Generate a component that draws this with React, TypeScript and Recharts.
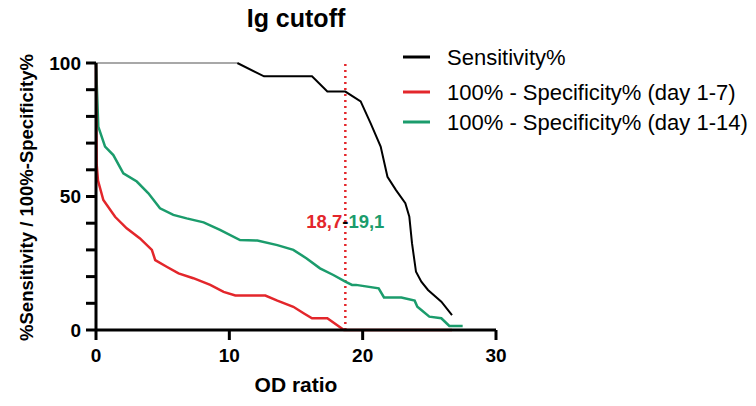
import { LineChart, Line, XAxis, YAxis, ReferenceLine } from 'recharts'

const sensTopX = [0, 10.6]
const sensTopY = [100, 100]

const sensX = [10.6, 12.6, 16.2, 17.35, 18.7, 19.85, 20.6, 21.35, 21.86, 22.5, 23.2, 23.5, 23.7, 24.0, 24.4, 24.9, 25.9, 26.7]
const sensY = [100, 95, 95, 89.3, 89.3, 85.6, 77.4, 68.7, 57.4, 52.4, 47.5, 42.4, 32.5, 21.8, 18.1, 15, 10.6, 5.6]

const spec7X = [0, 0.05, 0.15, 0.55, 1.43, 2.3, 3.3, 4.19, 4.44, 5.3, 6.19, 7.3, 8.57, 9.57, 10.45, 12.7, 13.6, 14.8, 15.6, 16.2, 17.35, 18.6, 26.7]
const spec7Y = [100, 62, 56, 48.7, 42.4, 38.1, 34.3, 30, 26.2, 23.7, 21.2, 19.4, 16.9, 14.3, 12.9, 12.9, 11, 8.7, 6.2, 4.4, 4.4, 0, 0]

const spec14X = [0, 0.17, 0.68, 1.3, 2.05, 3.06, 3.93, 4.8, 5.8, 6.8, 8.07, 9.3, 10.8, 12.1, 13.6, 14.8, 15.8, 16.8, 17.8, 18.7, 19.2, 19.5, 21.2, 21.6, 22.9, 23.9, 24.1, 24.4, 25.0, 25.9, 26.5, 27.5]
const spec14Y = [100, 76.2, 68.7, 65.5, 58.7, 55.6, 51.2, 45.6, 43.1, 41.8, 40.3, 37.5, 33.7, 33.5, 31.8, 30, 26.8, 23.1, 20.6, 18.1, 16.9, 16.9, 15.6, 12.2, 12.2, 11, 8.7, 7.5, 5, 4.4, 1.5, 1.5]

const xTicks = [0, 10, 20, 30]
const yTicks = [0, 10, 20, 30, 40, 50, 60, 70, 80, 90, 100]
const yTickLabels = [0, 50, 100]

const cutoffLow = 18.7
const cutoffHigh = 19.1
const cutoffLabelY = 41

const RED = '#e3262b'
const GREEN = '#1b9c6c'
const FONT = '"Liberation Sans", Arial, sans-serif'

const W = 756
const H = 406
const MARGIN = { top: 63, right: 260, bottom: 36, left: 46 }
const Y_AXIS_W = 50
const X_AXIS_H = 40
const TICK_SIZE = 10
const X_TICK_MARGIN = 9
const PLOT_W = W - MARGIN.left - MARGIN.right - Y_AXIS_W
const PLOT_H = H - MARGIN.top - MARGIN.bottom - X_AXIS_H
const X_MAX = 30
const Y_MAX = 100

const legendItems = [
  { name: 'Sensitivity%', color: '#000000', y: 57 },
  { name: '100% - Specificity% (day 1-7)', color: RED, y: 92 },
  { name: '100% - Specificity% (day 1-14)', color: GREEN, y: 122 },
]

const toPoints = (xs: number[], ys: number[]) => xs.map((x, i) => ({ x, y: ys[i] }))

const fmt = (v: number) => String(v).replace('.', ',')

// first x tick also carries the titles, legend and the cutoff text
function XTick(props: any) {
  const { x, y, payload } = props
  const label = (
    <text x={x} y={y} dy="0.71em" textAnchor="middle" fontSize={19} fontWeight="bold" fontFamily={FONT} fill="#000">
      {payload.value}
    </text>
  )
  if (payload.value !== xTicks[0]) return label
  const plotBottom = y - TICK_SIZE - X_TICK_MARGIN
  const cx = x + PLOT_W / 2
  const cutX = x + (cutoffLow / X_MAX) * PLOT_W
  const cutY = plotBottom - (cutoffLabelY / Y_MAX) * PLOT_H
  return (
    <g fontFamily={FONT}>
      {label}
      <text x={cx} y={plotBottom + X_AXIS_H + 22} textAnchor="middle" fontSize={21} fontWeight="bold" fill="#000">OD ratio</text>
      <text x={cx} y={27} textAnchor="middle" fontSize={25} fontWeight="bold" fill="#000">Ig cutoff</text>
      <text x={cutX} y={cutY} textAnchor="middle" dominantBaseline="central" fontWeight="bold" fontSize={18.5}>
        <tspan fill={RED}>{fmt(cutoffLow)}</tspan>
        <tspan fill="#000">-</tspan>
        <tspan fill={GREEN}>{fmt(cutoffHigh)}</tspan>
      </text>
      {legendItems.map(item => (
        <g key={item.name}>
          <line x1={403} x2={430} y1={item.y} y2={item.y} stroke={item.color} strokeWidth={3} />
          <text x={447} y={item.y} dominantBaseline="central" fontSize={22} fill="#000">{item.name}</text>
        </g>
      ))}
    </g>
  )
}

// first y tick also carries the rotated y title
function YTick(props: any) {
  const { x, y, payload } = props
  const label = (
    <text x={x} y={y} dy="0.355em" textAnchor="end" fontSize={19} fontWeight="bold" fontFamily={FONT} fill="#000">
      {yTickLabels.includes(payload.value) ? payload.value : ''}
    </text>
  )
  if (payload.value !== yTicks[0]) return label
  const tx = x - 55
  const ty = y - PLOT_H / 2 + 1
  return (
    <g>
      {label}
      <text x={tx} y={ty} transform={`rotate(-90 ${tx} ${ty})`} textAnchor="middle" dominantBaseline="central"
        fontFamily={FONT} fontSize={18.5} fontWeight="bold" fill="#000">
        %Sensitivity / 100%-Specificity%
      </text>
    </g>
  )
}

export default function App() {
  return (
    <div style={{ position: 'absolute', left: 0, top: 0 }}>
      <LineChart width={W} height={H} margin={MARGIN}>
        <XAxis
          type="number"
          dataKey="x"
          domain={[0, X_MAX]}
          ticks={xTicks}
          height={X_AXIS_H}
          stroke="#000"
          tick={<XTick />}
          tickSize={TICK_SIZE}
          tickMargin={X_TICK_MARGIN}
          axisLine={{ stroke: '#000', strokeWidth: 3 }}
          tickLine={{ stroke: '#000', strokeWidth: 3 }}
        />
        <YAxis
          type="number"
          dataKey="y"
          domain={[0, Y_MAX]}
          ticks={yTicks}
          interval={0}
          width={Y_AXIS_W}
          stroke="#000"
          tick={<YTick />}
          tickSize={TICK_SIZE}
          tickMargin={5}
          axisLine={{ stroke: '#000', strokeWidth: 3 }}
          tickLine={{ stroke: '#000', strokeWidth: 3 }}
        />
        <ReferenceLine x={cutoffLow} stroke={RED} strokeWidth={2.5} strokeDasharray="2 4" />
        <Line data={toPoints(sensTopX, sensTopY)} dataKey="y" stroke="#a8a8a8" strokeWidth={2} dot={false} isAnimationActive={false} />
        <Line data={toPoints(sensX, sensY)} dataKey="y" stroke="#000" strokeWidth={2} dot={false} isAnimationActive={false} />
        <Line data={toPoints(spec14X, spec14Y)} dataKey="y" stroke={GREEN} strokeWidth={2.5} dot={false} isAnimationActive={false} />
        <Line data={toPoints(spec7X, spec7Y)} dataKey="y" stroke={RED} strokeWidth={2.5} dot={false} isAnimationActive={false} />
      </LineChart>
    </div>
  )
}
